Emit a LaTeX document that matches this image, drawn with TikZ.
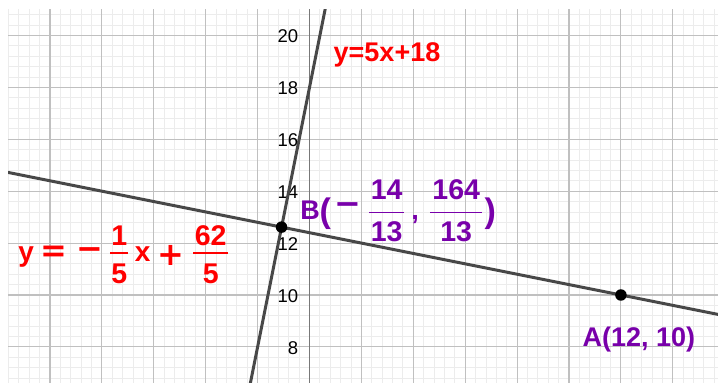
\documentclass[tikz,border=0pt]{standalone}
\usepackage{fontspec}
\setmainfont{Liberation Sans}
\newfontfamily\opfont{DejaVu Sans}
\definecolor{minorg}{RGB}{236,236,236}
\definecolor{majorg}{RGB}{192,192,192}
\definecolor{axisg}{RGB}{120,120,120}
\definecolor{lineg}{RGB}{72,72,72}
\definecolor{eqred}{RGB}{255,0,0}
\definecolor{ptpurple}{RGB}{120,0,170}
% glyph placement helpers (x = horizontal centre from node start)
\newcommand\bput[2]{\setbox0\hbox{#2}\rlap{\kern\dimexpr#1-0.5\wd0\relax\box0}}
\newcommand\cput[3]{\setbox0\hbox{#3}\rlap{\kern\dimexpr#1-0.5\wd0\relax\raise\dimexpr#2-0.5\ht0+0.5\dp0\relax\box0}}
\newcommand\fdig[1]{{\fontsize{28.5}{30}\selectfont #1}}
\newcommand\fput[7]{%
 \bput{#1}{\raise#5\hbox{\fdig{#3}}}%
 \bput{#1}{\raise#7\hbox{\fdig{#4}}}%
 \rlap{\kern\dimexpr#1-(#2)/2\relax\raise\dimexpr#6-0.65pt\relax\hbox{\vrule width #2 height 1.3pt depth 0pt}}}
\newcommand\opsym[1]{{\opfont\fontsize{32}{34}\selectfont #1}}
\newcommand\bigpar[1]{{\fontsize{34}{36}\selectfont #1}}
\tikzset{
 minorline/.style={draw=minorg, line width=0.9pt},
 majorline/.style={draw=majorg, line width=1.1pt},
 axisline/.style={draw=axisg, line width=1.1pt},
 graphline/.style={draw=lineg, line width=3pt},
 ptdot/.style={circle, fill=black, inner sep=0pt, minimum size=11.5pt},
 ticklab/.style={anchor=east, inner sep=0pt, yshift=-1pt, font=\fontsize{18.5}{20}\selectfont, text=black},
 redlab/.style={text=eqred, inner sep=0pt, anchor=base west, font=\fontsize{27}{30}\selectfont\bfseries},
 purplab/.style={text=ptpurple, inner sep=0pt, anchor=base west, font=\fontsize{27}{30}\selectfont\bfseries},
 data/.style={shift={(309.5pt,-171.5pt)}, x=25.95pt, y=25.95pt}
}
\begin{document}
\begin{tikzpicture}[x=1pt,y=1pt]
\useasboundingbox (0,0) rectangle (718,383);
\fill[white] (0,0) rectangle (718,383);
\begin{scope}
 \clip (8,0) rectangle (718,373);
 \begin{scope}[data]
  \foreach \k in {-30,...,40} \draw[minorline] (\k*0.4,6) -- (\k*0.4,22);
  \foreach \m in {15,...,55} \draw[minorline] (-12.5,\m*0.4) -- (16.5,\m*0.4);
  \foreach \k in {-6,...,8} \draw[majorline] (\k*2,6) -- (\k*2,22);
  \foreach \m in {3,...,11} \draw[majorline] (-12.5,\m*2) -- (16.5,\m*2);
  \draw[axisline] (0,6) -- (0,22);
  \foreach \t in {8,10,...,20} \node[ticklab] (t\t) at (-0.43,\t) {\t};
  \coordinate (L1a) at (-2.6,5);
  \coordinate (L1b) at (0.7,21.5);
  \coordinate (L2a) at (-12.5,14.9);
  \coordinate (L2b) at (16.5,9.1);
  \draw[graphline] (L1a) -- (L1b);
  \draw[graphline] (L2a) -- (L2b);
 \end{scope}
\end{scope}
\begin{scope}[data]
 \node[ptdot] (A) at (12,10) {};
 \node[ptdot] (B) at (-14/13,164/13) {};
\end{scope}
% labels
\node[redlab] (eq1) at (333.5,321) {y=5x+18};
\node[redlab] (eq2) at (15,121) {%
 \bput{11pt}{\fontsize{28}{30}\selectfont y}%
 \cput{38.5pt}{8pt}{\opsym{=}}%
 \cput{75pt}{8pt}{\opsym{−}}%
 \fput{104pt}{18pt}{1}{5}{16.7pt}{9pt}{-21.7pt}%
 \bput{127.5pt}{\fontsize{28}{30}\selectfont x}%
 \cput{156pt}{7pt}{\opsym{+}}%
 \fput{195.5pt}{35pt}{62}{5}{16.7pt}{9pt}{-21.7pt}%
 \kern215pt};
\node[purplab] (labB) at (300,163) {%
 \bput{10pt}{B}%
 \cput{25pt}{6pt}{\bigpar{(}}%
 \cput{48pt}{11pt}{\opsym{−}}%
 \fput{86.5pt}{35pt}{14}{13}{20pt}{7.3pt}{-21.7pt}%
 \bput{115pt}{,}%
 \fput{156pt}{52pt}{164}{13}{20pt}{7.3pt}{-21.7pt}%
 \cput{190pt}{6pt}{\bigpar{)}}%
 \kern197pt};
\node[purplab] (labA) at (582.5,36.3) {A(12, 10)};
\end{tikzpicture}
\end{document}
